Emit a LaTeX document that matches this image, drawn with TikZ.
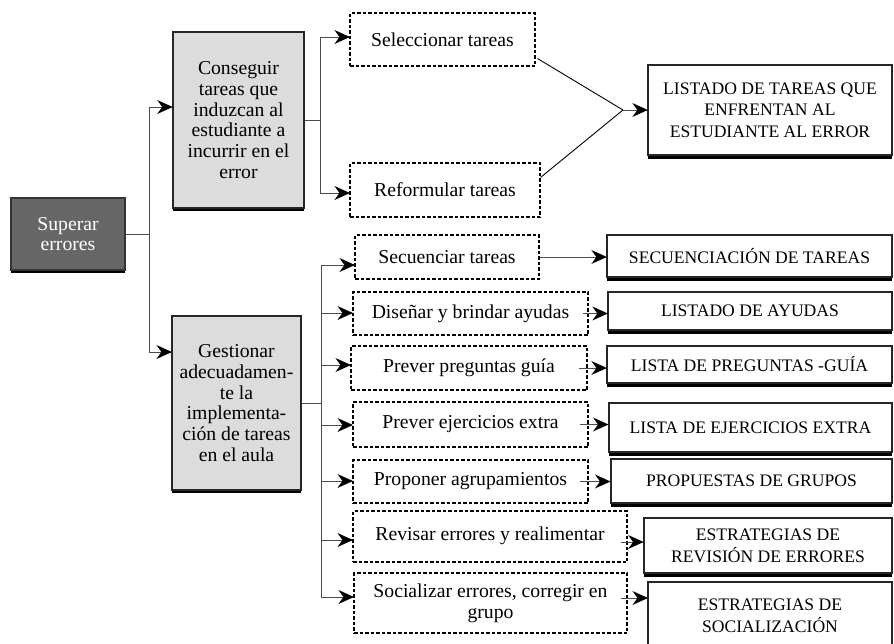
\documentclass[tikz,border=0pt]{standalone}
\usepackage{fontspec}
\setmainfont{Liberation Serif}
\usetikzlibrary{shadows,calc,decorations.markings}
\definecolor{rootgray}{HTML}{666666}
\definecolor{boxgray}{HTML}{DCDCDC}
\tikzset{
  lc/.style={font=\fontsize{19.7}{20.7}\selectfont},
  uc/.style={font=\fontsize{17.6}{21.7}\selectfont},
  base/.style={rectangle, inner sep=2pt, align=center, text=black},
  rootbox/.style={base, lc, fill=rootgray, draw=black!80, line width=1.2pt, text=white,
     general shadow={fill=black, shadow yshift=-3pt}},
  actbox/.style={base, lc, fill=boxgray, draw=black!85, line width=1.6pt,
     general shadow={fill=black, shadow yshift=-3pt}},
  taskbox/.style={base, lc, fill=white, draw=black, line width=1.1pt, dash pattern=on 3.5pt off 2pt},
  resbox/.style={base, uc, fill=white, draw=black!85, line width=1.3pt,
     general shadow={fill=black, shadow yshift=-3.5pt}},
  conn/.style={draw=black!70, line width=0.9pt},
  arr/.style={conn, postaction={decorate, decoration={markings,
     mark=at position 1 with {\fill[black] (0.5pt,0pt) -- (-15pt,-7pt) -- (-10pt,0pt) -- (-15pt,7pt) -- cycle;}}}},
}
\begin{document}
\begin{tikzpicture}[x=1pt,y=-1pt]
\useasboundingbox (0,0) rectangle (894,643);
\fill[white] (0,0) rectangle (894,643);

% main boxes
\node[rootbox, minimum width=114pt, minimum height=72pt] (sup) at (68,234) {Superar\\errores};
\node[actbox, minimum width=131pt, minimum height=176pt] (cons) at (238.5,120)
  {Conseguir\\tareas que\\induzcan al\\estudiante a\\incurrir en el\\error};
\node[actbox, line width=1.2pt, minimum width=129pt, minimum height=174pt] (gest) at (236.5,403)
  {Gestionar\\adecuadamen-\\te la\\implementa-\\ción de tareas\\en el aula};

% top branch
\node[taskbox, minimum width=185pt, minimum height=53pt] (sel) at (442.5,39.5) {Seleccionar tareas};
\node[taskbox, minimum width=190pt, minimum height=54pt] (ref) at (445,190) {Reformular tareas};
\node[resbox, minimum width=244pt, minimum height=90pt] (lt) at (770,110)
  {LISTADO DE TAREAS QUE\\ENFRENTAN AL\\ESTUDIANTE AL ERROR};

% task boxes
\node[taskbox, minimum width=184pt, minimum height=44pt] (a1) at (447,257) {Secuenciar tareas};
\node[taskbox, minimum width=235pt, minimum height=43pt] (a2) at (470.5,313.5) {Diseñar y brindar ayudas};
\node[taskbox, minimum width=236pt, minimum height=44pt] (a3) at (469,368) {Prever preguntas guía};
\node[taskbox, minimum width=235pt, minimum height=45pt] (a4) at (470.5,424.5) {Prever ejercicios extra};
\node[taskbox, minimum width=235pt, minimum height=43pt] (a5) at (470.5,481.5) {Proponer agrupamientos};
\node[taskbox, minimum width=274pt, minimum height=51pt] (a6) at (490,536.5) {\raisebox{6pt}{Revisar errores y realimentar}};
\node[taskbox, minimum width=273pt, minimum height=60pt] (a7) at (490.5,603) {Socializar errores, corregir en\\grupo};

% result boxes
\node[resbox, minimum width=285pt, minimum height=42pt] (r1) at (749.5,256) {SECUENCIACIÓN DE TAREAS};
\node[resbox, minimum width=284pt, minimum height=38pt] (r2) at (750,311) {LISTADO DE AYUDAS};
\node[resbox, minimum width=285pt, minimum height=37pt] (r3) at (749.5,364.5) {LISTA DE PREGUNTAS -GUÍA};
\node[resbox, line width=2pt, minimum width=283pt, minimum height=49pt] (r4) at (750.5,427.5) {LISTA DE EJERCICIOS EXTRA};
\node[resbox, line width=2pt, minimum width=281pt, minimum height=44pt] (r5) at (751.5,481) {PROPUESTAS DE GRUPOS};
\node[resbox, line width=1.8pt, minimum width=248pt, minimum height=55pt] (r6) at (768,545.5) {ESTRATEGIAS DE\\REVISIÓN DE ERRORES};
\node[base, uc, fill=white, draw=black!85, line width=1.1pt, minimum width=244pt, minimum height=68pt] (r7) at (770,616) {ESTRATEGIAS DE\\SOCIALIZACIÓN};

% root trunk
\coordinate (t1) at (149,107);
\coordinate (t2) at (149,352);
\draw[conn] (sup.east) -- (sup.east -| t1);
\draw[conn] (t1) -- (t2);
\draw[arr] (t1) -- (t1 -| cons.west);
\draw[arr] (t2) -- (t2 -| gest.west);

% conseguir trunk
\coordinate (c1) at (320,37);
\coordinate (c2) at (320,193);
\draw[conn] (cons.east) -- (cons.east -| c1);
\draw[conn] (c1) -- (c2);
\draw[arr] (c1) -- (c1 -| sel.west);
\draw[arr] (c2) -- (c2 -| ref.west);

% converge to LISTADO
\coordinate (m) at (623,110);
\draw[conn, draw=black] ($(sel.south east)+(2,-8)$) -- (m);
\draw[conn, draw=black] ($(ref.north east)+(0,15)$) -- (m);
\draw[arr] (m) -- (lt.west);

% gestionar trunk
\coordinate (g1) at (321,265);
\coordinate (g2) at (321,313);
\coordinate (g3) at (321,365);
\coordinate (g4) at (321,425);
\coordinate (g5) at (321,481);
\coordinate (g6) at (321,540);
\coordinate (g7) at (321,597);
\draw[conn] (gest.east) -- (gest.east -| g1);
\draw[conn] (g1) -- (g7);
\draw[arr] (g1) -- (g1 -| a1.west);
\draw[arr] (g2) -- (g2 -| a2.west);
\draw[arr] (g3) -- (g3 -| a3.west);
\draw[arr] (g4) -- (g4 -| a4.west);
\draw[arr] (g5) -- (g5 -| a5.west);
\draw[arr] (g6) -- (g6 -| a6.west);
\draw[arr] (g7) -- (g7 -| a7.west);

% outputs
\draw[arr] (a1.east) -- (a1.east -| r1.west);
\draw[arr] ([xshift=-6pt]a2.east) -- (a2.east -| r2.west);
\draw[arr] ([xshift=-9pt]a3.east) -- (a3.east -| r3.west);
\draw[arr] ([xshift=-9pt]a4.east) -- (a4.east -| r4.west);
\draw[arr] ([xshift=-9pt]a5.east) -- (a5.east -| r5.west);
\draw[arr] ([xshift=-7pt,yshift=-5.5pt]a6.east) -- ([yshift=-5.5pt]a6.east -| r6.west);
\draw[arr] ([xshift=-7pt,yshift=5pt]a7.east) -- ([yshift=5pt]a7.east -| r7.west);
\end{tikzpicture}
\end{document}
